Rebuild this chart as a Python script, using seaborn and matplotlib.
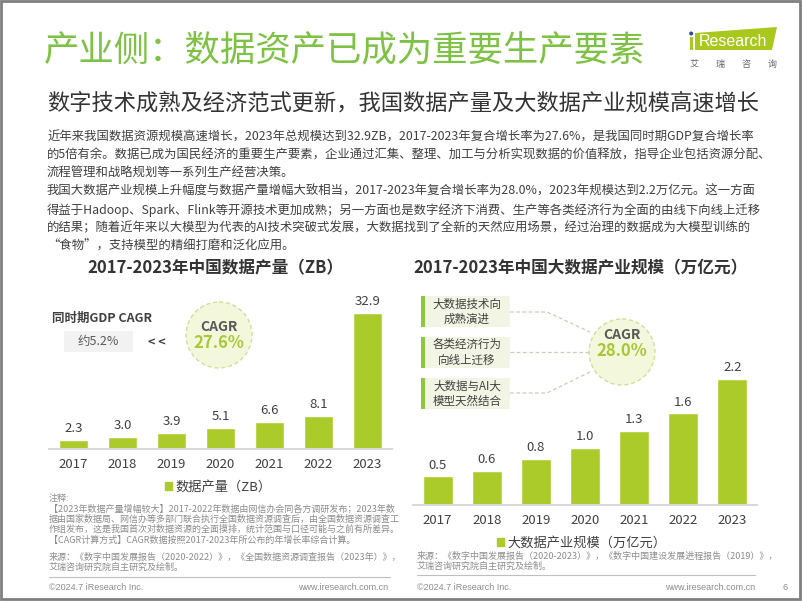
import matplotlib
matplotlib.use('Agg')
import matplotlib.pyplot as plt
import seaborn as sns
import pandas as pd
from matplotlib.patches import Rectangle, Circle, Polygon, Patch

# ---------------- data ----------------
years = ['2017', '2018', '2019', '2020', '2021', '2022', '2023']
data_output_zb = [2.3, 3.0, 3.9, 5.1, 6.6, 8.1, 32.9]
bigdata_scale = [0.5, 0.6, 0.8, 1.0, 1.3, 1.6, 2.2]

title = '产业侧：数据资产已成为重要生产要素'
subtitle = '数字技术成熟及经济范式更新，我国数据产量及大数据产业规模高速增长'
body_lines = [
    '近年来我国数据资源规模高速增长，2023年总规模达到32.9ZB，2017-2023年复合增长率为27.6%，是我国同时期GDP复合增长率',
    '的5倍有余。数据已成为国民经济的重要生产要素，企业通过汇集、整理、加工与分析实现数据的价值释放，指导企业包括资源分配、',
    '流程管理和战略规划等一系列生产经营决策。',
    '我国大数据产业规模上升幅度与数据产量增幅大致相当，2017-2023年复合增长率为28.0%，2023年规模达到2.2万亿元。这一方面',
    '得益于Hadoop、Spark、Flink等开源技术更加成熟；另一方面也是数字经济下消费、生产等各类经济行为全面的由线下向线上迁移',
    '的结果；随着近年来以大模型为代表的AI技术突破式发展，大数据找到了全新的天然应用场景，经过治理的数据成为大模型训练的',
    '“食物”，支持模型的精细打磨和泛化应用。',
]
left_title = '2017-2023年中国数据产量（ZB）'
right_title = '2017-2023年中国大数据产业规模（万亿元）'
left_legend = '数据产量（ZB）'
right_legend = '大数据产业规模（万亿元）'
gdp_label = '同时期GDP CAGR'
gdp_cagr = '约5.2%'
left_cagr = '27.6%'
right_cagr = '28.0%'
drivers = ['大数据技术向\n成熟演进', '各类经济行为\n向线上迁移', '大数据与AI大\n模型天然结合']
left_notes = [
    '注释:',
    '【2023年数据产量增幅较大】2017-2022年数据由网信办会同各方调研发布；2023年数',
    '据由国家数据局、网信办等多部门联合执行全国数据资源调查后，由全国数据资源调查工',
    '作组发布，这是我国首次对数据资源的全面摸排，统计范围与口径可能与之前有所差异。',
    '【CAGR计算方式】CAGR数据按照2017-2023年所公布的年增长率综合计算。',
]
left_source = ['来源：《数字中国发展报告（2020-2022）》，《全国数据资源调查报告（2023年）》，',
               '艾瑞咨询研究院自主研究及绘制。']
right_source = ['来源：《数字中国发展报告（2020-2023）》，《数字中国建设发展进程报告（2019）》，',
                '艾瑞咨询研究院自主研究及绘制。']
footer_left = '©2024.7 iResearch Inc.'
footer_right = 'www.iresearch.com.cn'
page_no = '6'

# ---------------- style ----------------
sns.set_theme(style='white')
plt.rcParams['font.family'] = ['Noto Sans CJK SC', 'DejaVu Sans']
plt.rcParams['axes.unicode_minus'] = False

BAR = '#ABCB2B'
GREEN_T = '#7DC243'
GREEN_N = '#A6C937'
DARK = '#404040'
GRAY = '#8C8C8C'

W, H = 802, 602
fig = plt.figure(figsize=(W / 100, H / 100), dpi=100)
fig.patch.set_facecolor('white')

# overlay in pixel coordinates
ov = fig.add_axes([0, 0, 1, 1])
ov.set_xlim(0, W)
ov.set_ylim(H, 0)
ov.axis('off')
ov.patch.set_alpha(0)


def T(x, y, s, size, color=DARK, ha='left', va='center', weight='normal', **kw):
    ov.text(x, y, s, fontsize=size, color=color, ha=ha, va=va, fontweight=weight, **kw)


# frame
ov.add_patch(Rectangle((1, 1), W - 3, H - 4, fill=False, ec='#7F7F7F', lw=2))

# title block
T(44, 50, title, 25.5, color=GREEN_T)
T(47, 103, subtitle, 16, color='#333333')
for i, line in enumerate(body_lines):
    T(47, 137 + i * 18.2, line, 8.9, color=DARK)

# logo
ov.add_patch(Polygon([(695, 33), (777, 27), (772, 50), (695, 50)], closed=True, fc='#A8C81E', ec='none'))
ov.add_patch(Rectangle((689.5, 37), 3.5, 13, fc='#A8C81E', ec='none'))
ov.add_patch(Circle((691.2, 33.5), 2.0, fc='#2E4A9E', ec='none'))
T(733, 41.5, 'Research', 11.5, color='white', ha='center', family=['Liberation Sans', 'DejaVu Sans'])
for k, ch in enumerate('艾瑞咨询'):
    T(694 + k * 26, 64, ch, 6.5, color='#666666', ha='center')

# chart titles
T(215, 268, left_title, 12, weight='bold', color='#333333', ha='center')
T(580, 268, right_title, 12, weight='bold', color='#333333', ha='center')


def make_bar_ax(x0, x1, base, top, ymax, values, legend_text, leg_xy):
    ax = fig.add_axes([x0 / W, (H - base) / H, (x1 - x0) / W, (base - top) / H])
    ax.patch.set_alpha(0)
    df = pd.DataFrame({'year': years, 'value': values})
    sns.barplot(data=df, x='year', y='value', color=BAR, saturation=1, width=0.61, ax=ax)
    ax.set_xlim(-0.5, 6.5)
    ax.set_ylim(0, ymax)
    ax.set_xlabel('')
    ax.set_ylabel('')
    ax.set_yticks([])
    for s in ['top', 'left', 'right']:
        ax.spines[s].set_visible(False)
    ax.spines['bottom'].set_color('#D9D9D9')
    ax.spines['bottom'].set_linewidth(1.5)
    ax.tick_params(axis='x', length=0, pad=6.5, labelsize=9.5, labelcolor=DARK)
    ax.bar_label(ax.containers[0], fmt='%.1f', padding=3.5, fontsize=9.5, color=DARK)
    lx = (leg_xy[0] - x0) / (x1 - x0)
    ly = (base - leg_xy[1]) / (base - top)
    ax.legend(handles=[Patch(color=BAR)], labels=[legend_text], loc='center',
              bbox_to_anchor=(lx, ly), frameon=False, fontsize=9.5,
              handlelength=0.55, handleheight=0.55, handletextpad=0.25,
              labelcolor=DARK)
    return ax


make_bar_ax(49, 392, 449, 290, 38.5, data_output_zb, left_legend, (218, 487))
make_bar_ax(413, 757, 505, 290, 3.754, bigdata_scale, right_legend, (582, 543))

# left annotations
T(52, 318, gdp_label, 9, weight='bold', color='#404040')
ov.add_patch(Rectangle((64, 331), 69, 21, fc='#F2F2F2', ec='none'))
T(98.5, 341.5, gdp_cagr, 9, color='#595959', ha='center')
T(157, 342, '< <', 9, weight='bold', color='#404040', ha='center')
ov.add_patch(Circle((219, 335), 33, fc='#F3F7DC', ec='#CFE09A', lw=1, ls=(0, (3, 2))))
T(219, 327, 'CAGR', 10, weight='bold', color='#595959', ha='center')
T(219, 343, left_cagr, 12, weight='bold', color=GREEN_N, ha='center')

# right annotations
box_tops = [296, 337, 378]
for bt, txt in zip(box_tops, drivers):
    ov.add_patch(Rectangle((424, bt), 86, 31, fc='#F2F5E3', ec='none'))
    ov.add_patch(Rectangle((421, bt), 3.5, 31, fc='#8DC63F', ec='none'))
    T(467, bt + 15.5, txt, 8.3, color=DARK, ha='center', linespacing=1.25)
dash = dict(color='#CCCCBB', lw=0.9, ls=(0, (3, 2)))
ov.plot([510, 547, 590], [312, 312, 332], **dash)
ov.plot([510, 589], [352, 352], **dash)
ov.plot([510, 547, 592], [393, 393, 371], **dash)
ov.add_patch(Circle((622, 352), 33, fc='#F3F7DC', ec='#CFE09A', lw=1, ls=(0, (3, 2))))
T(622, 335, 'CAGR', 10, weight='bold', color='#595959', ha='center')
T(622, 351, right_cagr, 12, weight='bold', color=GREEN_N, ha='center')

# notes & sources
for i, line in enumerate(left_notes):
    T(49, 499 + i * 10.2, line, 6.5, color=GRAY)
for i, line in enumerate(left_source):
    T(49, 557 + i * 10.2, line, 6.5, color=GRAY)
for i, line in enumerate(right_source):
    T(417, 556 + i * 10.2, line, 6.5, color=GRAY)
ov.plot([49, 390], [577, 577], color='#BFBFBF', lw=0.8)
ov.plot([417, 755], [575, 575], color='#BFBFBF', lw=0.8)
lat = ['Liberation Sans', 'DejaVu Sans']
T(49, 587, footer_left, 6.5, color=GRAY, family=lat)
T(388, 587, footer_right, 6.5, color=GRAY, ha='right', family=lat)
T(417, 587, footer_left, 6.5, color=GRAY, family=lat)
T(755, 587, footer_right, 6.5, color=GRAY, ha='right', family=lat)
T(785, 587, page_no, 6.5, color=GRAY, ha='center', family=lat)

fig.savefig('out.png', dpi=100, facecolor='white')
